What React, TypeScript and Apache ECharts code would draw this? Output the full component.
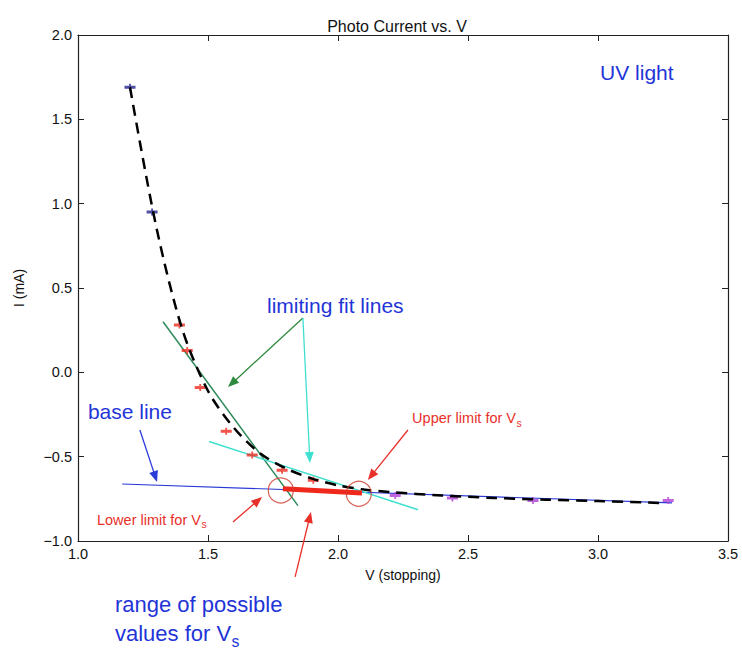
import React, { useEffect, useRef } from "react";
import * as echarts from "echarts";

// Measured points (V stopping, I mA), grouped by marker colour
const navyV = [1.2, 1.285];
const navyI = [1.69, 0.95];
const redV = [1.39, 1.42, 1.47, 1.57, 1.67, 1.785, 1.905];
const redI = [0.28, 0.13, -0.09, -0.35, -0.49, -0.58, -0.64];
const purpleV = [2.22, 2.44, 2.75, 3.27];
const purpleI = [-0.73, -0.745, -0.76, -0.76];

// Dashed guide curve
const curveV = [1.2, 1.3, 1.4, 1.5, 1.6, 1.7, 1.8, 1.9, 2.0, 2.1, 2.2, 2.4, 2.6, 2.8, 3.0, 3.25];
const curveI = [1.69, 0.87, 0.26, -0.11, -0.33, -0.48, -0.57, -0.63, -0.67, -0.695, -0.71, -0.73, -0.745, -0.755, -0.763, -0.775];

// Fit lines (endpoints)
const greenFitV = [1.327, 1.846];
const greenFitI = [0.30, -0.79];
const cyanFitV = [1.504, 2.308];
const cyanFitI = [-0.41, -0.815];
const baseLineV = [1.17, 3.285];
const baseLineI = [-0.662, -0.774];

// Range of possible Vs (red bar) and limit circles
const rangeV = [1.788, 2.092];
const rangeI = [-0.69, -0.715];
const limitV = [1.78, 2.08];
const limitI = [-0.70, -0.72];

const xTicks = [1.0, 1.5, 2.0, 2.5, 3.0, 3.5];
const yTicks = [-1.0, -0.5, 0.0, 0.5, 1.0, 1.5, 2.0];

const FONT = '"Liberation Sans", Arial, Helvetica, sans-serif';
const BLUE = "#1f35d8";
const RED = "#e8302a";

const zip = (a: number[], b: number[]) => a.map((v, i) => [v, b[i]]);
const fmt = (v: number) => (v < 0 ? "\u2212" + Math.abs(v).toFixed(1) : v.toFixed(1));

const markerPath = "path://M0 3 H12 V6 H0 Z M5 1 H7 V8 H5 Z";

// Annotations in data coordinates
const arrows = [
  { from: [1.865, 0.322], to: [1.577, -0.087], color: "#2e8a3e" },
  { from: [1.865, 0.322], to: [1.892, -0.537], color: "#40e0d0" },
  { from: [1.238, -0.342], to: [1.304, -0.65], color: "#2a3ad8" },
  { from: [2.269, -0.342], to: [2.115, -0.638], color: RED },
  { from: [1.596, -0.887], to: [1.708, -0.739], color: RED },
  { from: [1.835, -1.213], to: [1.896, -0.828], color: RED },
];
const labels = [
  { text: "UV light", at: [3.008, 1.775], size: 21, color: BLUE, sub: "" },
  { text: "limiting fit lines", at: [1.727, 0.399], size: 21, color: BLUE, sub: "" },
  { text: "base line", at: [1.038, -0.235], size: 21, color: BLUE, sub: "" },
  { text: "Upper limit for V", at: [2.285, -0.271], size: 14.5, color: RED, sub: "s" },
  { text: "Lower limit for V", at: [1.073, -0.875], size: 14.5, color: RED, sub: "s" },
  { text: "range of possible", at: [1.142, -1.379], size: 22, color: BLUE, sub: "" },
  { text: "values for V", at: [1.142, -1.55], size: 22, color: BLUE, sub: "s" },
];

export default function App() {
  const ref = useRef<HTMLDivElement>(null);
  useEffect(() => {
    const chart = echarts.init(ref.current!, null, { renderer: "svg" });
    const axisCommon = {
      type: "value" as const,
      axisLine: { show: true, onZero: false, lineStyle: { color: "#222", width: 1.2 } },
      axisTick: { show: true, inside: true, length: 6, lineStyle: { color: "#222" } },
      splitLine: { show: false },
    };
    chart.setOption({
      animation: false,
      backgroundColor: "#fff",
      title: {
        text: "Photo Current vs. V",
        left: 392,
        top: 13,
        textAlign: "center",
        textStyle: { fontFamily: FONT, fontSize: 16, fontWeight: "normal", color: "#111" },
      },
      grid: { left: 78, right: 14, top: 35, bottom: 110 },
      xAxis: [
        {
          ...axisCommon,
          position: "bottom",
          min: xTicks[0],
          max: xTicks[xTicks.length - 1],
          interval: 0.5,
          name: "V (stopping)",
          nameLocation: "middle",
          nameGap: 27,
          nameTextStyle: { fontFamily: FONT, fontSize: 14, color: "#111" },
          axisLabel: { fontFamily: FONT, fontSize: 14.5, color: "#111", margin: 5, formatter: fmt },
        },
        {
          ...axisCommon,
          position: "top",
          min: xTicks[0],
          max: xTicks[xTicks.length - 1],
          interval: 0.5,
          axisLabel: { show: false },
        },
      ],
      yAxis: [
        {
          ...axisCommon,
          position: "left",
          min: yTicks[0],
          max: yTicks[yTicks.length - 1],
          interval: 0.5,
          name: "I (mA)",
          nameLocation: "middle",
          nameGap: 52,
          nameTextStyle: { fontFamily: FONT, fontSize: 14, color: "#111" },
          axisLabel: { fontFamily: FONT, fontSize: 14.5, color: "#111", margin: 6, formatter: fmt },
        },
        {
          ...axisCommon,
          position: "right",
          min: yTicks[0],
          max: yTicks[yTicks.length - 1],
          interval: 0.5,
          axisLabel: { show: false },
        },
      ],
      series: [
        {
          type: "line",
          data: zip(baseLineV, baseLineI),
          symbol: "none",
          lineStyle: { color: "#2a3ad8", width: 1.2 },
          z: 2,
        },
        {
          type: "line",
          data: zip(greenFitV, greenFitI),
          symbol: "none",
          lineStyle: { color: "#2e8a5a", width: 1.5 },
          z: 2,
        },
        {
          type: "line",
          data: zip(cyanFitV, cyanFitI),
          symbol: "none",
          lineStyle: { color: "#40e0d0", width: 1.5 },
          z: 2,
        },
        {
          type: "scatter",
          data: zip(navyV, navyI),
          symbol: markerPath,
          symbolSize: [11, 7],
          itemStyle: { color: "#232390" },
          z: 3,
        },
        {
          type: "scatter",
          data: zip(redV, redI),
          symbol: markerPath,
          symbolSize: [11, 7],
          itemStyle: { color: "#ee2a1e" },
          z: 3,
        },
        {
          type: "scatter",
          data: zip(purpleV, purpleI),
          symbol: markerPath,
          symbolSize: [11, 7],
          itemStyle: { color: "#b23fd6" },
          z: 3,
        },
        {
          type: "line",
          data: zip(curveV, curveI),
          symbol: "none",
          smooth: 0.3,
          lineStyle: { color: "#000", width: 2.5, type: [11, 7] },
          z: 4,
        },
        {
          type: "line",
          data: zip(rangeV, rangeI),
          symbol: "none",
          lineStyle: { color: "#f0281c", width: 5 },
          z: 5,
        },
        {
          type: "scatter",
          data: zip(limitV, limitI),
          symbol: "circle",
          symbolSize: 25,
          itemStyle: { color: "rgba(0,0,0,0)", borderColor: "#d0392b", borderWidth: 1.2 },
          z: 6,
        },
      ],
    });

    const toPx = (p: number[]) =>
      chart.convertToPixel({ xAxisIndex: 0, yAxisIndex: 0 }, p) as number[];
    const graphics: any[] = [];
    arrows.forEach((a) => {
      const P = toPx(a.from);
      const H = toPx(a.to);
      const dx = H[0] - P[0];
      const dy = H[1] - P[1];
      const len = Math.hypot(dx, dy);
      const ux = dx / len;
      const uy = dy / len;
      const L = 11;
      const w = 4.5;
      const bx = H[0] - ux * L;
      const by = H[1] - uy * L;
      graphics.push({
        type: "line",
        shape: { x1: P[0], y1: P[1], x2: bx + ux * 2, y2: by + uy * 2 },
        style: { stroke: a.color, lineWidth: 1.3 },
        z: 10,
      });
      graphics.push({
        type: "polygon",
        shape: {
          points: [
            [H[0], H[1]],
            [bx - uy * w, by + ux * w],
            [bx + uy * w, by - ux * w],
          ],
        },
        style: { fill: a.color },
        z: 10,
      });
    });
    const ctx = document.createElement("canvas").getContext("2d")!;
    labels.forEach((l) => {
      const p = toPx(l.at);
      graphics.push({
        type: "text",
        x: p[0],
        y: p[1],
        style: {
          text: l.text,
          fill: l.color,
          fontSize: l.size,
          fontFamily: FONT,
          align: "left",
          verticalAlign: "middle",
        },
        z: 11,
      });
      if (l.sub) {
        ctx.font = `${l.size}px ${FONT}`;
        const w = ctx.measureText(l.text).width;
        graphics.push({
          type: "text",
          x: p[0] + w + 0.5,
          y: p[1] + l.size * 0.35,
          style: {
            text: l.sub,
            fill: l.color,
            fontSize: l.size * 0.72,
            fontFamily: FONT,
            align: "left",
            verticalAlign: "middle",
          },
          z: 11,
        });
      }
    });
    chart.setOption({ graphic: graphics });
    return () => chart.dispose();
  }, []);
  return (
    <div
      ref={ref}
      style={{ position: "absolute", left: 0, top: 0, width: 742, height: 651 }}
    />
  );
}
